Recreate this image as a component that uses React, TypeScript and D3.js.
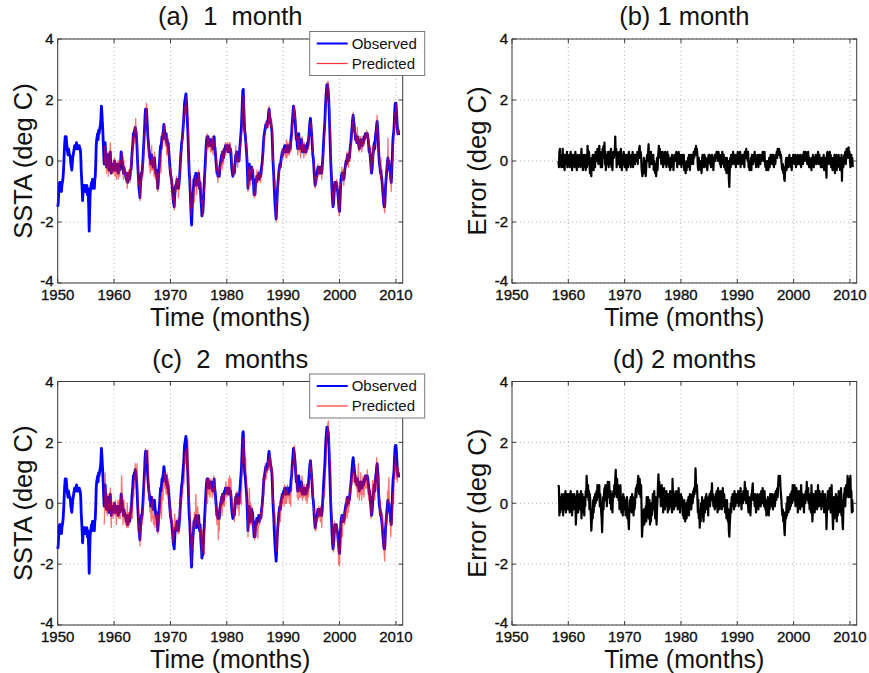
import React from 'react';
import * as d3 from 'd3';

// ---------- Observed SSTA (deg C), monthly, Jan 1950 .. Jul 2010 ----------
const obs1950s = [
  -1.5, -1.4, -1.1, -0.8, -0.7, -0.8, -0.7, -0.9, -1.0, -0.8, -0.7, -0.6,
  -0.4, -0.1, 0.3, 0.6, 0.8, 0.7, 0.8, 0.6, 0.4, 0.3, 0.2, 0.4,
  0.3, 0.2, 0.2, 0.1, -0.1, -0.2, -0.3, -0.1, 0.1, 0.2, 0.3, 0.4,
  0.5, 0.5, 0.4, 0.5, 0.6, 0.5, 0.4, 0.5, 0.4, 0.5, 0.5, 0.4,
  0.4, 0.2, -0.3, -0.6, -0.9, -1.3, -1.0, -0.8, -1.0, -0.9, -0.8, -1.0,
  -0.9, -1.0, -0.8, -1.1, -0.9, -1.1, -1.5, -2.3, -1.7, -1.1, -0.9, -0.8,
  -0.7, -0.9, -0.6, -0.7, -0.6, -0.8, -0.9, -0.6, -0.5, -0.1, 0.5, 0.7,
  0.8, 0.9, 0.7, 1.0, 0.9, 1.0, 1.1, 1.2, 1.4, 1.8, 1.6, 1.3,
  1.0, 0.6, 0.2, -0.1, 0.3, 0.6, 0.2, 0.0, -0.2, 0.1, -0.1, 0.2,
  -0.1, -0.3, -0.1, 0.2, 0.3, -0.2, -0.4, -0.2, -0.3, -0.1, -0.2, -0.3,
];
const obs1960s = [
  -0.2, 0.0, -0.3, -0.2, -0.1, -0.3, -0.2, -0.1, -0.3, -0.4, -0.2, -0.1,
  -0.3, -0.2, 0.0, 0.3, 0.2, 0.1, -0.1, -0.3, -0.4, -0.2, -0.3, -0.4,
  -0.4, -0.5, -0.6, -0.4, -0.5, -0.7, -0.5, -0.6, -0.4, -0.6, -0.5, -0.3,
  -0.3, -0.1, 0.2, 0.4, 0.6, 0.9, 0.8, 1.0, 0.9, 1.1, 1.0, 0.9,
  0.7, 0.4, 0.0, -0.3, -0.6, -0.9, -1.0, -1.2, -0.9, -0.6, -0.4, -0.5,
  -0.3, -0.1, 0.2, 0.5, 0.8, 1.1, 1.5, 1.7, 1.6, 1.7, 1.4, 1.1,
  0.8, 0.6, 0.4, 0.3, 0.1, 0.2, -0.1, 0.0, 0.2, -0.1, 0.1, -0.2,
  0.0, -0.2, 0.1, -0.1, -0.3, -0.4, -0.3, -0.5, -0.6, -0.9, -0.7, -0.4,
  -0.2, 0.0, 0.3, 0.5, 0.4, 0.6, 0.8, 0.7, 0.9, 1.0, 1.2, 1.1,
  0.9, 0.8, 0.7, 0.9, 0.6, 0.7, 0.5, 0.6, 0.4, 0.2, 0.0, -0.2,
];
const obs1970s = [
  -0.4, -0.5, -0.6, -0.7, -0.9, -1.1, -1.3, -1.4, -1.5, -1.2, -0.9, -0.8,
  -0.9, -0.7, -0.6, -0.8, -0.7, -0.9, -0.8, -0.6, -0.4, -0.1, 0.2, 0.4,
  0.6, 0.7, 0.9, 1.1, 1.3, 1.6, 1.9, 2.0, 2.1, 2.2, 2.0, 1.7,
  1.3, 1.0, 0.5, 0.0, -0.4, -0.6, -1.0, -1.4, -1.8, -2.1, -1.7, -1.3,
  -1.1, -0.9, -0.6, -0.8, -0.5, -0.7, -0.4, -0.6, -0.8, -0.7, -0.5, -0.6,
  -0.4, -0.7, -0.9, -0.7, -1.0, -1.3, -1.5, -1.8, -1.6, -1.7, -1.4, -1.0,
  -0.7, -0.4, -0.1, 0.2, 0.5, 0.7, 0.8, 0.6, 0.8, 0.7, 0.5, 0.6,
  0.7, 0.5, 0.6, 0.7, 0.5, 0.6, 0.4, 0.5, 0.6, 0.8, 0.5, 0.4,
  0.2, 0.0, -0.2, -0.4, -0.3, -0.5, -0.4, -0.3, -0.5, -0.2, -0.1, 0.0,
  0.1, 0.2, 0.0, 0.3, 0.2, 0.1, 0.3, 0.4, 0.3, 0.5, 0.4, 0.5,
];
const obs1980s = [
  0.5, 0.4, 0.5, 0.3, 0.4, 0.5, 0.4, 0.3, 0.4, 0.2, -0.1, -0.3,
  -0.4, -0.5, -0.3, -0.2, -0.4, -0.2, 0.0, 0.2, 0.1, 0.3, 0.2, 0.0,
  0.1, 0.2, 0.0, 0.3, 0.5, 0.7, 0.9, 1.1, 1.5, 1.9, 2.3, 2.35,
  1.8, 1.4, 1.0, 0.9, 0.7, 0.5, 0.3, 0.0, -0.4, -0.9, -0.6, -0.3,
  -0.1, -0.4, -0.6, -0.3, -0.5, -0.2, -0.4, -0.3, -0.6, -0.8, -1.1, -1.0,
  -1.1, -0.8, -0.6, -0.7, -0.5, -0.6, -0.5, -0.6, -0.4, -0.6, -0.5, -0.4,
  -0.5, -0.4, -0.2, -0.1, 0.1, 0.3, 0.6, 0.8, 0.9, 1.0, 1.1, 1.2,
  1.2, 1.1, 1.3, 1.2, 1.4, 1.6, 1.7, 1.5, 1.4, 1.3, 1.2, 1.1,
  1.0, 0.6, 0.1, -0.2, -0.5, -0.9, -1.2, -1.5, -1.7, -1.9, -1.6, -1.2,
  -0.9, -0.7, -0.5, -0.3, -0.2, -0.1, -0.2, 0.0, 0.1, 0.2, 0.3, 0.2,
];
const obs1990s = [
  0.3, 0.4, 0.3, 0.5, 0.4, 0.3, 0.4, 0.5, 0.3, 0.4, 0.5, 0.4,
  0.3, 0.4, 0.5, 0.4, 0.6, 0.8, 0.9, 1.2, 1.4, 1.6, 1.8, 1.7,
  1.6, 1.4, 1.2, 0.9, 0.7, 0.8, 0.5, 0.4, 0.6, 0.9, 0.7, 0.5,
  0.6, 0.4, 0.5, 0.7, 0.6, 0.3, 0.4, 0.5, 0.3, 0.4, 0.5, 0.3,
  0.4, 0.3, 0.5, 0.4, 0.6, 0.5, 0.7, 0.9, 1.1, 1.3, 1.4, 1.2,
  1.0, 0.8, 0.5, 0.2, 0.1, -0.1, -0.4, -0.6, -0.8, -0.7, -0.6, -0.5,
  -0.4, -0.3, -0.2, -0.4, -0.3, -0.2, -0.4, -0.3, -0.2, -0.3, -0.4, -0.2,
  0.0, 0.3, 0.6, 0.9, 1.1, 1.4, 1.8, 2.1, 2.3, 2.5, 2.5, 2.4,
  2.3, 2.0, 1.6, 1.1, 0.6, 0.1, -0.3, -0.6, -1.0, -1.3, -1.5, -1.4,
  -1.2, -0.9, -0.7, -0.8, -0.9, -0.7, -0.8, -0.9, -1.0, -1.2, -1.4, -1.6,
];
const obs2000s = [
  -1.65, -1.3, -0.9, -0.6, -0.5, -0.4, -0.6, -0.5, -0.4, -0.6, -0.5, -0.3,
  -0.2, -0.1, 0.0, -0.1, 0.1, 0.2, 0.1, 0.0, 0.2, 0.1, 0.3, 0.5,
  0.6, 0.8, 1.0, 1.2, 1.4, 1.5, 1.3, 1.2, 1.0, 0.9, 0.7, 0.8,
  0.7, 0.6, 0.8, 0.6, 0.7, 0.5, 0.4, 0.6, 0.5, 0.7, 0.6, 0.5,
  0.5, 0.6, 0.7, 0.6, 0.8, 0.7, 0.8, 0.9, 0.8, 0.9, 0.8, 0.9,
  0.8, 0.7, 0.5, 0.3, 0.4, 0.2, 0.0, -0.2, -0.4, -0.3, -0.1, 0.2,
  0.3, 0.5, 0.6, 0.4, 0.7, 0.9, 1.0, 1.2, 1.3, 1.1, 0.8, 0.4,
  0.1, -0.1, -0.2, -0.4, -0.3, -0.5, -0.6, -0.8, -1.0, -1.2, -1.4, -1.5,
  -1.5, -1.2, -0.8, -0.6, -0.4, -0.2, 0.0, 0.1, -0.1, 0.0, -0.2, -0.3,
  -0.4, -0.6, -0.7, -0.4, 0.0, 0.5, 0.8, 0.9, 1.1, 1.5, 1.8, 1.9,
];
const obs2010 = [1.9, 1.7, 1.4, 1.1, 0.9, 1.0, 0.85];

// ---------- Prediction error (Observed - Predicted), 1-month lead, Apr 1958 .. Jul 2010 ----------
const err1a = [
  0.0, -0.2, 0.3, 0.4, -0.1, 0.2, -0.2, 0.1, -0.1,
  0.4, -0.2, 0.1, 0.2, -0.3, 0.1, 0.0, 0.2, -0.1, 0.3, -0.2, 0.1,
  0.1, -0.1, 0.2, -0.2, 0.0, 0.3, -0.1, 0.1, -0.3, 0.2, 0.0, -0.1,
  0.2, -0.2, 0.1, 0.3, -0.1, 0.0, -0.3, 0.1, 0.2, -0.2, 0.1, 0.0,
  -0.1, 0.2, -0.2, 0.1, 0.4, -0.1, 0.2, -0.3, 0.1, 0.0, 0.2, -0.2,
  0.1, -0.3, 0.2, 0.1, -0.2, 0.5, 0.2, -0.1, 0.3, 0.1, -0.4, 0.0,
  -0.3, -0.5, 0.1, -0.2, 0.2, -0.1, -0.3, 0.1, 0.2, -0.2, 0.3, 0.1,
  0.2, 0.0, 0.4, 0.2, -0.1, 0.3, 0.5, 0.1, 0.3, -0.2, 0.2, 0.0,
  -0.2, 0.4, 0.1, 0.5, 0.2, 0.6, -0.1, 0.3, -0.3, 0.2, 0.0, 0.1,
  -0.1, 0.3, -0.2, 0.1, 0.3, -0.1, 0.2, 0.4, -0.2, 0.1, -0.3, 0.2,
  0.3, 0.1, 0.2, 0.3, 0.8, 0.2, 0.4, -0.2, 0.3, 0.0, 0.2, -0.1,
  0.1, 0.3, -0.2, 0.2, 0.4, 0.0, -0.3, 0.1, 0.2, -0.1, 0.3, 0.0,
];
const err1b = [
  -0.2, 0.2, -0.1, 0.1, -0.3, 0.2, 0.0, -0.2, 0.1, 0.3, -0.1, 0.0,
  0.1, -0.2, 0.2, 0.0, -0.1, 0.3, -0.2, 0.1, 0.0, 0.2, -0.1, 0.1,
  0.2, 0.1, 0.0, 0.3, -0.1, 0.2, 0.1, 0.4, 0.5, 0.1, 0.3, 0.2,
  -0.2, -0.4, -0.5, -0.1, -0.3, 0.1, -0.4, -0.2, 0.0, -0.5, -0.2, 0.1,
  0.2, 0.0, 0.3, 0.55, 0.1, -0.2, 0.2, 0.0, 0.3, -0.1, 0.2, 0.1,
  -0.1, 0.2, -0.3, 0.0, -0.2, -0.4, -0.1, -0.5, -0.2, 0.1, -0.3, 0.0,
  0.3, 0.5, 0.2, 0.4, 0.1, 0.3, -0.1, 0.2, 0.0, 0.3, -0.2, 0.1,
  0.2, -0.1, 0.3, 0.0, 0.2, -0.2, 0.1, 0.3, -0.1, 0.2, 0.0, -0.2,
  -0.1, -0.3, 0.1, -0.2, 0.0, 0.2, -0.1, 0.1, -0.3, 0.0, 0.2, 0.1,
  0.2, 0.0, 0.3, 0.1, -0.2, 0.2, 0.0, 0.3, 0.1, -0.1, 0.2, 0.0,
];
const err1c = [
  0.1, -0.2, 0.2, 0.0, 0.1, -0.1, 0.2, -0.3, 0.0, -0.2, -0.4, -0.1,
  -0.3, 0.0, -0.2, 0.1, -0.1, 0.2, 0.0, -0.3, 0.1, 0.2, -0.1, 0.2,
  0.0, 0.2, -0.1, 0.3, 0.1, 0.2, 0.4, 0.2, 0.5, 0.3, 0.4, 0.2,
  -0.2, -0.3, 0.1, -0.1, -0.2, 0.0, -0.3, -0.2, -0.4, 0.1, 0.2, 0.0,
  0.1, -0.2, 0.2, 0.0, -0.1, 0.1, -0.2, 0.0, -0.3, -0.1, 0.1, 0.2,
  0.0, 0.2, -0.1, 0.1, -0.2, 0.0, 0.2, -0.1, 0.1, -0.3, 0.0, 0.1,
  0.2, 0.0, 0.1, 0.2, 0.3, 0.1, 0.2, 0.0, 0.3, 0.1, 0.2, -0.1,
  0.1, -0.2, 0.2, 0.0, 0.3, 0.1, -0.1, 0.2, -0.2, 0.0, 0.1, -0.3,
  -0.2, -0.4, 0.1, -0.3, -0.2, 0.0, -0.6, -0.85, -0.3, 0.1, -0.2, 0.2,
  0.2, 0.1, -0.1, 0.3, 0.0, 0.2, -0.1, 0.1, 0.2, -0.2, 0.1, 0.0,
];
const err1d = [
  0.1, 0.3, -0.1, 0.2, 0.0, 0.1, 0.3, -0.2, 0.2, 0.0, -0.1, 0.2,
  0.0, 0.2, 0.1, -0.2, 0.3, 0.1, 0.2, 0.4, 0.1, 0.2, 0.0, 0.3,
  -0.2, 0.0, -0.3, -0.1, -0.2, 0.1, -0.3, 0.2, 0.0, 0.1, -0.1, 0.2,
  0.1, 0.3, 0.0, 0.2, -0.2, -0.1, 0.1, 0.0, 0.2, -0.2, 0.1, 0.0,
  0.2, -0.1, 0.1, 0.0, 0.2, 0.1, 0.3, 0.0, 0.2, 0.1, 0.3, -0.1,
  -0.2, 0.0, -0.3, -0.1, -0.2, 0.0, -0.3, -0.1, 0.1, -0.2, 0.0, 0.2,
  0.1, 0.2, -0.1, 0.1, 0.0, 0.2, -0.2, 0.1, 0.0, -0.1, 0.2, 0.1,
  0.3, 0.1, 0.4, 0.2, 0.3, 0.4, 0.2, 0.3, 0.1, 0.2, 0.0, -0.2,
  -0.3, -0.1, -0.4, -0.2, -0.6, -0.65, -0.3, -0.2, 0.1, -0.3, 0.0, -0.1,
  0.1, -0.2, 0.0, 0.2, -0.1, 0.1, -0.2, 0.0, -0.3, 0.1, -0.1, 0.2,
];
const err1e = [
  0.0, 0.2, -0.1, 0.1, 0.2, -0.2, 0.0, 0.1, -0.1, 0.2, 0.0, 0.1,
  -0.1, 0.1, 0.2, 0.0, -0.2, 0.1, 0.0, 0.2, -0.1, 0.1, 0.3, 0.0,
  0.2, 0.1, 0.3, 0.0, 0.2, -0.1, 0.1, 0.3, 0.0, -0.2, 0.1, -0.1,
  -0.2, 0.0, -0.3, 0.1, -0.1, 0.2, 0.0, -0.2, 0.1, -0.1, 0.0, 0.2,
  0.1, -0.1, 0.2, 0.0, 0.3, 0.1, -0.1, 0.2, 0.0, 0.1, -0.2, 0.0,
  0.1, -0.2, 0.0, -0.1, 0.2, -0.3, -0.1, 0.1, 0.0, -0.2, -0.55, 0.2,
  0.3, 0.0, 0.2, -0.1, 0.1, 0.3, 0.0, 0.2, -0.2, 0.1, 0.0, -0.3,
  -0.1, 0.1, -0.2, 0.2, -0.4, 0.0, -0.1, 0.2, -0.3, 0.1, -0.2, 0.0,
  0.2, -0.1, 0.1, -0.3, 0.0, -0.2, 0.2, -0.65, 0.0, 0.1, -0.2, 0.1,
  0.2, 0.0, 0.3, -0.1, 0.1, 0.4, 0.2, 0.3, 0.1, 0.45, 0.2, 0.3,
  0.1, -0.2, 0.0, 0.2, -0.1, 0.1, -0.2,
];

// ---------- Prediction error, 2-month lead, Apr 1958 .. Jul 2010 ----------
const err2a = [
  0.6, 0.5, -0.4, 0.2, -0.3, 0.1, -0.2, 0.3, -0.1,
  0.2, -0.4, 0.1, 0.3, -0.2, 0.0, 0.4, -0.3, 0.1, -0.1, 0.3, 0.0,
  -0.2, 0.3, 0.1, -0.3, 0.2, 0.4, -0.1, 0.2, -0.4, 0.0, 0.3, -0.2,
  0.1, 0.3, -0.2, 0.2, -0.7, -0.3, 0.1, 0.4, 0.0, -0.3, 0.2, -0.1,
  0.3, -0.2, 0.1, 0.4, -0.5, 0.0, 0.3, -0.3, 0.2, 0.1, -0.4, 0.2,
  -0.1, 0.4, 0.2, 0.9, 0.5, 0.3, 0.6, 0.1, 0.4, -0.2, 0.3, 0.0,
  -0.4, -0.9, -0.6, -0.2, -0.5, 0.1, -0.3, 0.2, -0.1, 0.3, 0.0, 0.2,
  0.4, 0.1, 0.6, 0.3, 0.5, 0.2, 0.6, -0.1, 0.3, 0.0, -0.3, -0.5,
  -0.95, -0.4, 0.2, -0.2, 0.3, 0.5, 0.1, 0.6, 0.2, 0.4, -0.1, 0.3,
  0.7, 0.2, 0.5, 0.7, 0.3, 0.0, 0.4, -0.2, 0.3, 0.1, -0.3, 0.2,
  0.4, 0.2, 0.6, 0.3, 0.8, 1.1, 0.5, 0.2, 0.8, 0.3, 0.6, 0.1,
  0.4, -0.2, 0.3, 0.6, 0.1, -0.3, 0.2, 0.0, -0.4, 0.3, -0.1, 0.2,
];
const err2b = [
  -0.2, 0.1, -0.4, 0.0, -0.3, 0.2, -0.5, -0.2, -0.6, -0.85, -0.3, 0.1,
  -0.2, 0.2, 0.0, -0.3, 0.3, -0.1, 0.2, -0.4, 0.1, -0.2, 0.0, 0.3,
  0.5, 0.2, 0.6, 0.4, 0.7, 0.9, 0.6, 0.3, 0.8, 0.5, 0.2, 0.6,
  -0.1, -1.1, -0.8, -0.4, -0.6, -0.2, -0.7, -0.3, -0.5, -0.1, -0.6, 0.2,
  0.1, -0.3, 0.2, -0.5, -0.2, 0.1, -0.7, -0.3, -0.6, 0.0, -0.4, -0.2,
  0.3, 0.1, -0.2, 0.4, -0.1, -0.5, 0.2, -0.3, -0.7, -0.2, 0.1, 0.6,
  0.95, 0.4, 0.7, 0.2, 0.5, -0.1, 0.3, 0.6, 0.0, 0.4, -0.3, 0.2,
  0.5, 0.1, -0.2, 0.3, 0.0, 0.4, -0.1, 0.2, -0.3, 0.3, 0.1, -0.2,
  0.2, 0.4, -0.1, 0.3, 0.0, -0.3, 0.8, 0.2, 0.4, -0.2, 0.1, 0.3,
  -0.1, 0.2, 0.4, 0.0, 0.3, -0.2, 0.1, 0.5, 0.0, 0.2, -0.3, 0.1,
];
const err2c = [
  0.3, -0.1, 0.2, 0.0, -0.4, -0.2, -0.5, 0.1, -0.3, -0.6, -0.2, 0.0,
  -0.5, -0.3, 0.1, -0.2, 0.2, -0.4, 0.0, 0.3, -0.1, 0.2, -0.2, 0.1,
  0.3, 0.0, 0.4, 0.2, 0.5, 0.3, 0.6, 1.15, 0.7, 0.4, 0.6, 0.2,
  -0.3, 0.1, -0.5, -0.2, -0.8, -0.4, -0.6, 0.0, -0.3, 0.2, -0.1, -0.4,
  -0.6, -0.2, 0.1, -0.3, 0.2, -0.1, 0.3, 0.0, -0.2, 0.1, -0.4, 0.2,
  0.0, 0.3, -0.1, 0.2, 0.4, 0.1, 0.65, 0.2, 0.3, -0.1, 0.2, 0.0,
  -0.2, 0.1, 0.3, -0.1, 0.4, 0.2, -0.3, 0.5, 0.1, 0.3, -0.2, 0.2,
  0.4, 0.0, 0.3, -0.2, 0.1, 0.5, 0.2, -0.1, 0.3, 0.0, -0.3, 0.1,
  -0.2, -0.5, 0.1, -0.3, -0.6, -0.2, -0.9, -1.1, -0.7, -0.4, 0.0, -0.3,
  0.2, -0.1, 0.3, 0.0, 0.2, -0.2, 0.4, 0.1, -0.1, 0.3, 0.0, 0.2,
];
const err2d = [
  0.3, 0.1, 0.4, -0.1, 0.2, 0.3, 0.0, 0.5, 0.1, -0.2, 0.3, 0.2,
  0.0, 0.4, 0.2, 0.1, 0.7, 0.3, 0.5, 0.0, 0.3, 0.2, 0.4, -0.1,
  -0.3, 0.2, -0.2, 0.1, -0.4, 0.0, 0.3, 0.2, 0.5, 0.65, 0.1, 0.3,
  0.2, -0.1, 0.3, 0.0, -0.3, 0.2, -0.1, 0.3, 0.1, -0.2, 0.2, 0.0,
  0.3, 0.1, -0.1, 0.4, 0.2, 0.0, 0.5, 0.2, 0.3, -0.1, 0.4, 0.1,
  -0.2, 0.1, -0.4, 0.0, -0.3, 0.2, -0.1, -0.4, 0.1, -0.2, 0.3, 0.0,
  0.2, -0.1, 0.3, 0.1, -0.2, 0.2, 0.0, 0.3, -0.1, 0.2, 0.4, 0.1,
  0.3, 0.5, 0.2, 0.6, 0.9, 0.8, 0.6, 0.9, 0.5, 0.3, 0.1, -0.2,
  -0.4, -0.2, -0.6, -0.3, -0.8, -1.05, -0.6, -0.3, -0.5, 0.0, -0.4, 0.2,
  0.1, -0.3, 0.2, 0.0, -0.2, 0.3, -0.1, 0.2, 0.4, 0.0, 0.6, 0.2,
];
const err2e = [
  0.4, 0.1, 0.6, 0.2, -0.1, 0.3, 0.5, 0.0, 0.2, -0.3, 0.1, 0.4,
  0.0, 0.3, -0.2, 0.2, 0.6, 0.1, -0.1, 0.3, 0.0, 0.2, -0.3, 0.1,
  0.3, 0.0, 0.4, 0.2, 0.7, 0.3, 0.1, 0.5, 0.0, 0.3, -0.2, 0.1,
  0.2, -0.3, 0.6, 0.1, -0.6, -0.2, 0.3, 0.0, 0.2, -0.3, 0.1, 0.4,
  0.0, 0.3, -0.2, 0.2, 0.6, 0.1, -0.1, 0.4, 0.2, 0.0, 0.3, -0.2,
  0.2, 0.0, 0.4, -0.1, 0.2, -0.3, 0.1, 0.3, -0.2, 0.0, -0.85, -0.3,
  0.1, 0.4, -0.2, 0.3, 0.0, 0.5, 0.1, -0.3, 0.2, 0.6, -0.1, -0.4,
  -0.85, -0.2, 0.2, -0.5, 0.1, -0.3, 0.3, 0.0, -0.6, 0.2, -0.4, 0.1,
  0.4, 0.0, 0.3, -0.3, 0.2, 0.5, -0.4, 0.1, -0.6, -0.85, -0.2, 0.3,
  0.2, 0.5, -0.1, 0.3, 0.6, 0.2, 0.4, 0.9, 0.3, 0.7, 0.2, 0.8,
  0.5, 0.9, 0.2, 0.4, -0.3, 0.1, -0.3,
];

const xTicks = [1950, 1960, 1970, 1980, 1990, 2000, 2010];
const yTicks = [-4, -2, 0, 2, 4];
const OBS_START = 1950;
const ERR_START = 1958.25;

const observed = [...obs1950s, ...obs1960s, ...obs1970s, ...obs1980s, ...obs1990s, ...obs2000s, ...obs2010];
const error1 = [...err1a, ...err1b, ...err1c, ...err1d, ...err1e];
const error2 = [...err2a, ...err2b, ...err2c, ...err2d, ...err2e];

type Pt = { t: number; v: number };
const obsSeries: Pt[] = observed.map((v, i) => ({ t: OBS_START + i / 12, v }));
const errSeries = (err: number[]): Pt[] => err.map((v, i) => ({ t: ERR_START + i / 12, v }));
const predSeries = (err: number[]): Pt[] => {
  const off = Math.round((ERR_START - OBS_START) * 12);
  const out: Pt[] = [];
  err.forEach((e, i) => {
    const o = observed[off + i];
    if (o !== undefined) out.push({ t: ERR_START + i / 12, v: o - e });
  });
  return out;
};

const FONT = "'Liberation Sans', Arial, Helvetica, sans-serif";

type PanelProps = {
  left: number; top: number; width: number; height: number;
  title: string; ylabel: string; mode: 'ssta' | 'err'; err: number[];
};

function Panel({ left, top, width, height, title, ylabel, mode, err }: PanelProps) {
  const x = d3.scaleLinear().domain([1950, 2011.2]).range([left, left + width]);
  const y = d3.scaleLinear().domain([-4, 4]).range([top + height, top]);
  const line = d3.line<Pt>().x(d => x(d.t)).y(d => y(d.v));
  const right = left + width;
  const bottom = top + height;
  const tk = 4;
  const axisColor = '#3a3a3a';
  return (
    <g>
      {/* grid */}
      {xTicks.map(t => (
        <line key={'gx' + t} x1={x(t)} x2={x(t)} y1={top} y2={bottom}
          stroke="#b0b0b0" strokeWidth={1} strokeDasharray="1,3" />
      ))}
      {yTicks.map(t => (
        <line key={'gy' + t} x1={left} x2={right} y1={y(t)} y2={y(t)}
          stroke="#b0b0b0" strokeWidth={1} strokeDasharray="1,3" />
      ))}
      {/* data */}
      {mode === 'ssta' ? (
        <g>
          <path d={line(obsSeries) || ''} fill="none" stroke="#0000ff" strokeWidth={2.8} strokeLinejoin="round" />
          <path d={line(predSeries(err)) || ''} fill="none" stroke="#ff0000" strokeWidth={1.3} strokeOpacity={0.55} strokeLinejoin="round" />
        </g>
      ) : (
        <path d={line(errSeries(err)) || ''} fill="none" stroke="#000" strokeWidth={2.2} strokeLinejoin="round" />
      )}
      {/* box */}
      <rect x={left} y={top} width={width} height={height} fill="none" stroke={axisColor} strokeWidth={1} />
      {/* ticks */}
      {xTicks.map(t => (
        <g key={'tx' + t}>
          <line x1={x(t)} x2={x(t)} y1={bottom} y2={bottom - tk} stroke={axisColor} />
          <line x1={x(t)} x2={x(t)} y1={top} y2={top + tk} stroke={axisColor} />
          <text x={x(t)} y={bottom + 17} textAnchor="middle" fontSize={15} fontFamily={FONT}
            fill="#111" stroke="#111" strokeWidth={0.35}>{t}</text>
        </g>
      ))}
      {yTicks.map(t => (
        <g key={'ty' + t}>
          <line x1={left} x2={left + tk} y1={y(t)} y2={y(t)} stroke={axisColor} />
          <line x1={right} x2={right - tk} y1={y(t)} y2={y(t)} stroke={axisColor} />
          <text x={left - 4} y={y(t) - (t === -4 ? 2 : 0)} dy="0.35em" textAnchor="end" fontSize={15} fontFamily={FONT}
            fill="#111" stroke="#111" strokeWidth={0.35}>{t}</text>
        </g>
      ))}
      {/* labels */}
      <text x={left + width / 2} y={top - 14} textAnchor="middle" fontSize={25.5} fontFamily={FONT}
        fill="#111" style={{ whiteSpace: 'pre' }}>{title}</text>
      <text x={left + width / 2} y={bottom + 43} textAnchor="middle" fontSize={25} fontFamily={FONT} fill="#111">Time (months)</text>
      <text transform={`translate(${left - 26},${top + height / 2}) rotate(-90)`} textAnchor="middle"
        fontSize={25.5} fontFamily={FONT} fill="#111">{ylabel}</text>
      {/* legend */}
      {mode === 'ssta' && (
        <g>
          <rect x={right - 93} y={top - 7.5} width={115} height={44} fill="#fff" stroke="#777" strokeWidth={1} />
          <line x1={right - 86} x2={right - 55} y1={top + 4.5} y2={top + 4.5} stroke="#0000ff" strokeWidth={2} />
          <text x={right - 51} y={top + 9.5} fontSize={15} fontFamily={FONT} fill="#111">Observed</text>
          <line x1={right - 86} x2={right - 55} y1={top + 24.5} y2={top + 24.5} stroke="#ff3333" strokeWidth={1.2} />
          <text x={right - 51} y={top + 29.5} fontSize={15} fontFamily={FONT} fill="#111">Predicted</text>
        </g>
      )}
    </g>
  );
}

export default function App() {
  return (
    <svg width={869} height={673} viewBox="0 0 869 673"
      style={{ position: 'absolute', left: 0, top: 0, background: '#fff' }}>
      <rect x={0} y={0} width={869} height={673} fill="#fff" />
      <Panel left={57.7} top={39} width={345} height={244} title="(a)  1  month" ylabel="SSTA (deg C)" mode="ssta" err={error1} />
      <Panel left={512} top={39} width={344.7} height={244} title="(b) 1 month" ylabel="Error (deg C)" mode="err" err={error1} />
      <Panel left={57.7} top={381.5} width={345} height={243.5} title="(c)  2  months" ylabel="SSTA (deg C)" mode="ssta" err={error2} />
      <Panel left={512} top={381.5} width={344.7} height={243.5} title="(d) 2 months" ylabel="Error (deg C)" mode="err" err={error2} />
    </svg>
  );
}
